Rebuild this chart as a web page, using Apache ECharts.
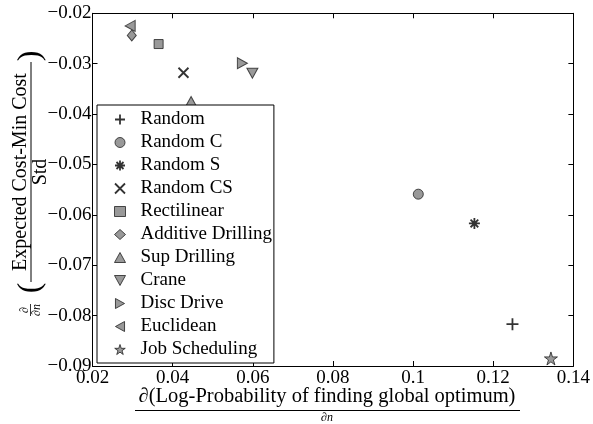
<!DOCTYPE html>
<html>
<head>
<meta charset="utf-8">
<script src="https://cdn.jsdelivr.net/npm/echarts@6/dist/echarts.min.js"></script>
<style>
  html, body { margin: 0; padding: 0; background: #fff; }
  #chart { width: 593px; height: 424px; }
</style>
</head>
<body>
<div id="chart"></div>
<script>
// values
const seriesNames = ['Random', 'Random C', 'Random S', 'Random CS', 'Rectilinear',
  'Additive Drilling', 'Sup Drilling', 'Crane', 'Disc Drive', 'Euclidean', 'Job Scheduling']
const xValues = [0.1248, 0.1013, 0.1153, 0.0427, 0.0365, 0.0298, 0.0446, 0.0599, 0.0574, 0.0294, 0.1344]
const yValues = [-0.0817, -0.0559, -0.0617, -0.0318, -0.0261, -0.0244, -0.0375, -0.0319, -0.0299, -0.0225, -0.0885]
const xTicks = [0.02, 0.04, 0.06, 0.08, 0.1, 0.12, 0.14]
const yTicks = [-0.09, -0.08, -0.07, -0.06, -0.05, -0.04, -0.03, -0.02]

const FONT = '"Liberation Serif", "DejaVu Serif", serif'
const GRAY = '#808080'
const EDGE = '#222'

const PLUS = 'path://M0,6L12,6M6,0L6,12'
const CROSS = 'path://M0,0L12,12M0,12L12,0'
const ASTER = 'path://M6,0L6,12M0,6L12,6M1.8,1.8L10.2,10.2M1.8,10.2L10.2,1.8'
const STAR = 'path://M10,0L12.245,6.91L19.51,6.91L13.63,11.18L15.88,18.09L10,13.82L4.12,18.09L6.37,11.18L0.49,6.91L7.755,6.91Z'
const TRI_UP = 'path://M5.5,0L11,10L0,10Z'
const TRI_DOWN = 'path://M0,0L11,0L5.5,10Z'
const TRI_RIGHT = 'path://M0,0L10,5.5L0,11Z'
const TRI_LEFT = 'path://M10,0L0,5.5L10,11Z'

// marker style per series (same order as seriesNames)
const markers = [
  { symbol: PLUS, size: 12, line: true },
  { symbol: 'circle', size: 10 },
  { symbol: ASTER, size: 11, line: true },
  { symbol: CROSS, size: 10, line: true },
  { symbol: 'rect', size: 9 },
  { symbol: 'diamond', size: [9, 11] },
  { symbol: TRI_UP, size: [11, 10] },
  { symbol: TRI_DOWN, size: [11, 10] },
  { symbol: TRI_RIGHT, size: [10, 11] },
  { symbol: TRI_LEFT, size: [10, 11] },
  { symbol: STAR, size: 13 }
]

const series = seriesNames.map((name, i) => {
  const m = markers[i]
  return {
    name: name,
    type: 'scatter',
    symbol: m.symbol,
    symbolSize: m.size,
    itemStyle: m.line
      ? { color: '#000', borderColor: '#000', borderWidth: 1.8 }
      : { color: GRAY, borderColor: EDGE, borderWidth: 1 },
    emphasis: { disabled: true },
    data: [[xValues[i], yValues[i]]]
  }
})

const fmtX = v => String(+v.toFixed(2))
const fmtY = v => (v < 0 ? '\u2212' : '') + Math.abs(v).toFixed(2)

const axisCommon = {
  axisLine: { show: true, onZero: false, lineStyle: { color: '#000', width: 1 } },
  axisTick: { show: true, inside: true, length: 5, lineStyle: { color: '#000' } },
  splitLine: { show: false }
}

const chart = echarts.init(document.getElementById('chart'))
chart.setOption({
  animation: false,
  backgroundColor: '#fff',
  grid: { left: 92.5, right: 17, top: 13.3, bottom: 58 },
  xAxis: [
    Object.assign({
      type: 'value', position: 'bottom',
      min: xTicks[0], max: xTicks[xTicks.length - 1], interval: 0.02,
      axisLabel: { formatter: fmtX, color: '#000', fontFamily: FONT, fontSize: 19, margin: 3 }
    }, axisCommon),
    Object.assign({
      type: 'value', position: 'top',
      min: xTicks[0], max: xTicks[xTicks.length - 1], interval: 0.02,
      axisLabel: { show: false }
    }, axisCommon)
  ],
  yAxis: [
    Object.assign({
      type: 'value', position: 'left',
      min: yTicks[0], max: yTicks[yTicks.length - 1], interval: 0.01,
      axisLabel: { formatter: fmtY, color: '#000', fontFamily: FONT, fontSize: 19, margin: 1 }
    }, axisCommon),
    Object.assign({
      type: 'value', position: 'right',
      min: yTicks[0], max: yTicks[yTicks.length - 1], interval: 0.01,
      axisLabel: { show: false }
    }, axisCommon)
  ],
  legend: {
    orient: 'vertical',
    left: 97,
    top: 105,
    data: seriesNames,
    backgroundColor: '#fff',
    borderColor: '#000',
    borderWidth: 1,
    borderRadius: 0,
    padding: [5, 2, 4, 17],
    itemGap: 4,
    itemWidth: 11,
    itemHeight: 10,
    itemStyle: { borderWidth: 'inherit' },
    selectedMode: false,
    textStyle: { color: '#000', fontFamily: FONT, fontSize: 19, lineHeight: 19, padding: [0, 0, 0, 10] }
  },
  graphic: [
    // y axis title: d/dn ( (Expected Cost-Min Cost) / Std )
    {
      type: 'group',
      x: 0,
      y: 172,
      rotation: Math.PI / 2,
      children: [
        { type: 'text', x: 0, y: 21, style: { text: 'Expected Cost-Min Cost', fontFamily: FONT, fontSize: 20, fill: '#000', align: 'center', verticalAlign: 'middle' } },
        { type: 'line', shape: { x1: -110, y1: 31, x2: 110, y2: 31 }, style: { stroke: '#000', lineWidth: 1 } },
        { type: 'text', x: 0, y: 41, style: { text: 'Std', fontFamily: FONT, fontSize: 20, fill: '#000', align: 'center', verticalAlign: 'middle' } },
        { type: 'text', x: -116, y: 31, style: { text: '(', fontFamily: FONT, fontSize: 32, fill: '#000', align: 'center', verticalAlign: 'middle' } },
        { type: 'text', x: 116, y: 31, style: { text: ')', fontFamily: FONT, fontSize: 32, fill: '#000', align: 'center', verticalAlign: 'middle' } },
        { type: 'text', x: -138, y: 24.5, style: { text: '\u2202', fontFamily: FONT, fontSize: 12, fill: '#000', align: 'center', verticalAlign: 'middle' } },
        { type: 'line', shape: { x1: -144, y1: 30.5, x2: -132, y2: 30.5 }, style: { stroke: '#000', lineWidth: 0.8 } },
        { type: 'text', x: -138, y: 36.5, style: { text: '\u2202n', fontFamily: FONT, fontSize: 12, fontStyle: 'italic', fill: '#000', align: 'center', verticalAlign: 'middle' } }
      ]
    },
    // x axis title: d(Log-Probability of finding global optimum) / dn
    { type: 'text', x: 327, y: 397, style: { text: '\u2202(Log-Probability of finding global optimum)', fontFamily: FONT, fontSize: 20.5, fill: '#000', align: 'center', verticalAlign: 'middle' } },
    { type: 'line', shape: { x1: 135, y1: 410.5, x2: 520, y2: 410.5 }, style: { stroke: '#000', lineWidth: 1 } },
    { type: 'text', x: 327, y: 417.5, style: { text: '\u2202n', fontFamily: FONT, fontSize: 12, fontStyle: 'italic', fill: '#000', align: 'center', verticalAlign: 'middle' } }
  ],
  series: series
})
</script>
</body>
</html>
